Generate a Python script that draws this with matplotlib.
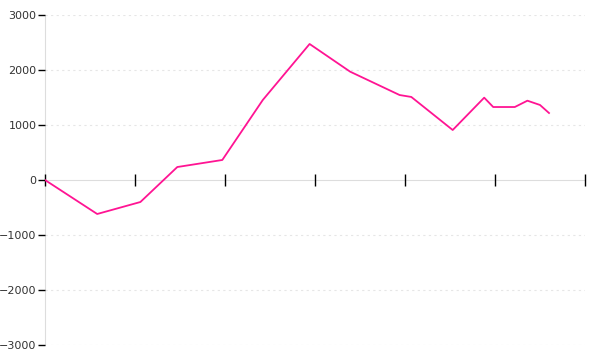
import matplotlib.pyplot as plt
import numpy as np

# ======================================================
# DATA
# ======================================================
days = [0, 5.8, 10.6, 14.7, 19.7, 24.2, 29.4, 33.9, 39.4, 40.7,
        45.3, 48.8, 49.8, 52.2, 53.6, 55.0, 56.0]
values = [0, -618, -400, 236, 364, 1455, 2473, 1970, 1545, 1510,
          909, 1497, 1327, 1327, 1442, 1364, 1218]

x_ticks = [0, 10, 20, 30, 40, 50, 60]
y_ticks = [-3000, -2000, -1000, 0, 1000, 2000, 3000]

# ======================================================
# PLOT
# ======================================================
fig = plt.figure(figsize=(6, 3.6), dpi=100)
ax = fig.add_axes([45 / 600, 1 - 345 / 360, 540 / 600, 330 / 360])

ax.plot(days, values, color="#ff1493", linewidth=1.3, zorder=3)

ax.set_xlim(0, 60)
ax.set_ylim(-3000, 3000)

# grid
for v in y_ticks:
    if v != 0:
        ax.axhline(v, color="#e6e6e6", linestyle=(0, (2, 3)), linewidth=0.8, zorder=0)

# spines
ax.spines["top"].set_visible(False)
ax.spines["right"].set_visible(False)
ax.spines["bottom"].set_position(("data", 0))
ax.spines["bottom"].set_color("#dddddd")
ax.spines["left"].set_color("#dddddd")
ax.spines["bottom"].set_zorder(0.5)
ax.spines["left"].set_zorder(0.5)

ax.set_xticks(x_ticks)
ax.set_xticklabels([])
ax.tick_params(axis="x", direction="inout", length=9, width=1, color="black")

ax.set_yticks(y_ticks)
ax.set_yticklabels([str(v).replace("-", "\u2212") for v in y_ticks])
ax.tick_params(axis="y", direction="out", length=5, width=1, color="black",
               labelsize=8, labelcolor="#333333", pad=1)

fig.savefig("out.png", dpi=100)
plt.close(fig)
